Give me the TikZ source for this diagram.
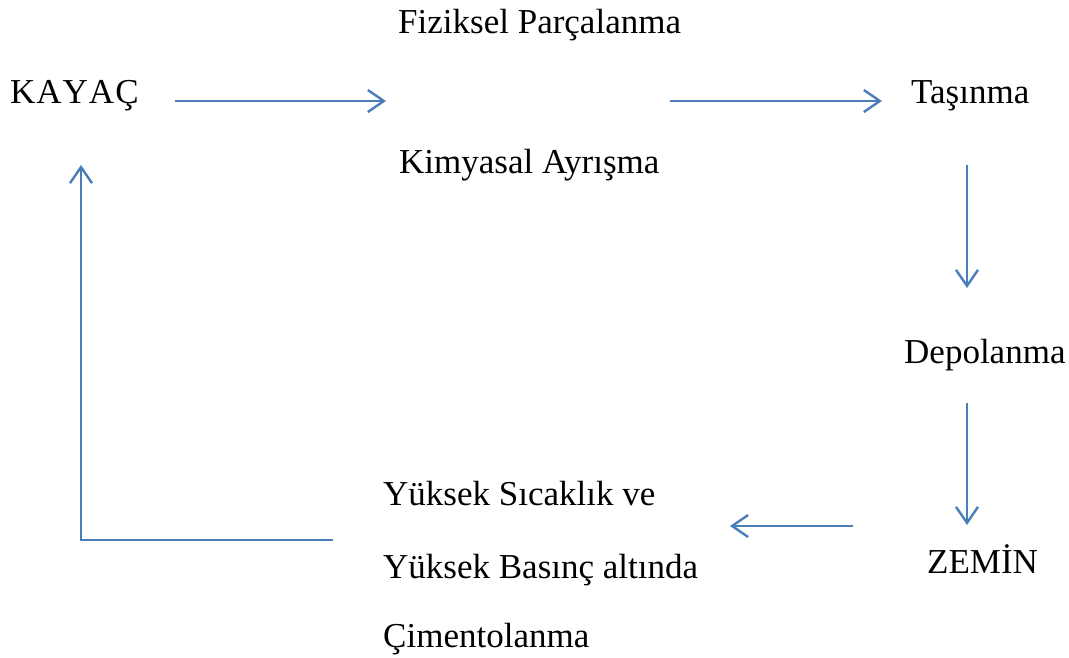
\documentclass[tikz,border=0pt]{standalone}
\usepackage{fontspec}
\setmainfont{Liberation Serif}
\usetikzlibrary{arrows.meta}
\definecolor{flowblue}{HTML}{4A7EBB}

\begin{document}
\begin{tikzpicture}[x=1pt, y=-1pt,
    lbl/.style={anchor=base west, inner sep=0pt, font=\fontsize{35}{42}\selectfont},
    flow/.style={draw=flowblue, line width=2.6pt,
        -{Straight Barb[length=16pt, width=22pt, line width=2.4pt]}}]
    \useasboundingbox (0,0) rectangle (1069,657);

    \node[lbl] at (10, 103) (kayac) {K\kern1ptA\kern1ptY\kern1ptA\kern1ptÇ};
    \node[lbl] at (398, 33) (fiziksel) {Fiziksel Parçalanma};
    \node[lbl] at (399, 173) (kimyasal) {Kimyasal Ayrışma};
    \node[lbl] at (911, 103) (tasinma) {Taşınma};
    \node[lbl] at (904, 363) (depolanma) {Depolanma};
    \node[lbl] at (927, 573) (zemin) {ZEMİN};
    \node[lbl] at (383, 505) (cim1) {Yüksek Sıcaklık ve};
    \node[lbl] at (383, 578) (cim2) {Yüksek Basınç altında};
    \node[lbl] at (383, 647) (cim3) {Çimentolanma};

    \coordinate (a1s) at (175, 101);
    \coordinate (a1e) at (386, 101);
    \coordinate (a2s) at (670, 101);
    \coordinate (a2e) at (882, 101);
    \coordinate (a3s) at (967, 165);
    \coordinate (a3e) at (967, 288);
    \coordinate (a4s) at (967, 403);
    \coordinate (a4e) at (967, 525);
    \coordinate (a5s) at (853, 526);
    \coordinate (a5e) at (730, 526);
    \coordinate (r1) at (333, 540);
    \coordinate (r2) at (81, 540);
    \coordinate (r3) at (81, 165);

    \draw[flow] (a1s) -- (a1e);
    \draw[flow] (a2s) -- (a2e);
    \draw[flow] (a3s) -- (a3e);
    \draw[flow] (a4s) -- (a4e);
    \draw[flow] (a5s) -- (a5e);
    \draw[flow] (r1) -- (r2) -- (r3);
\end{tikzpicture}
\end{document}
